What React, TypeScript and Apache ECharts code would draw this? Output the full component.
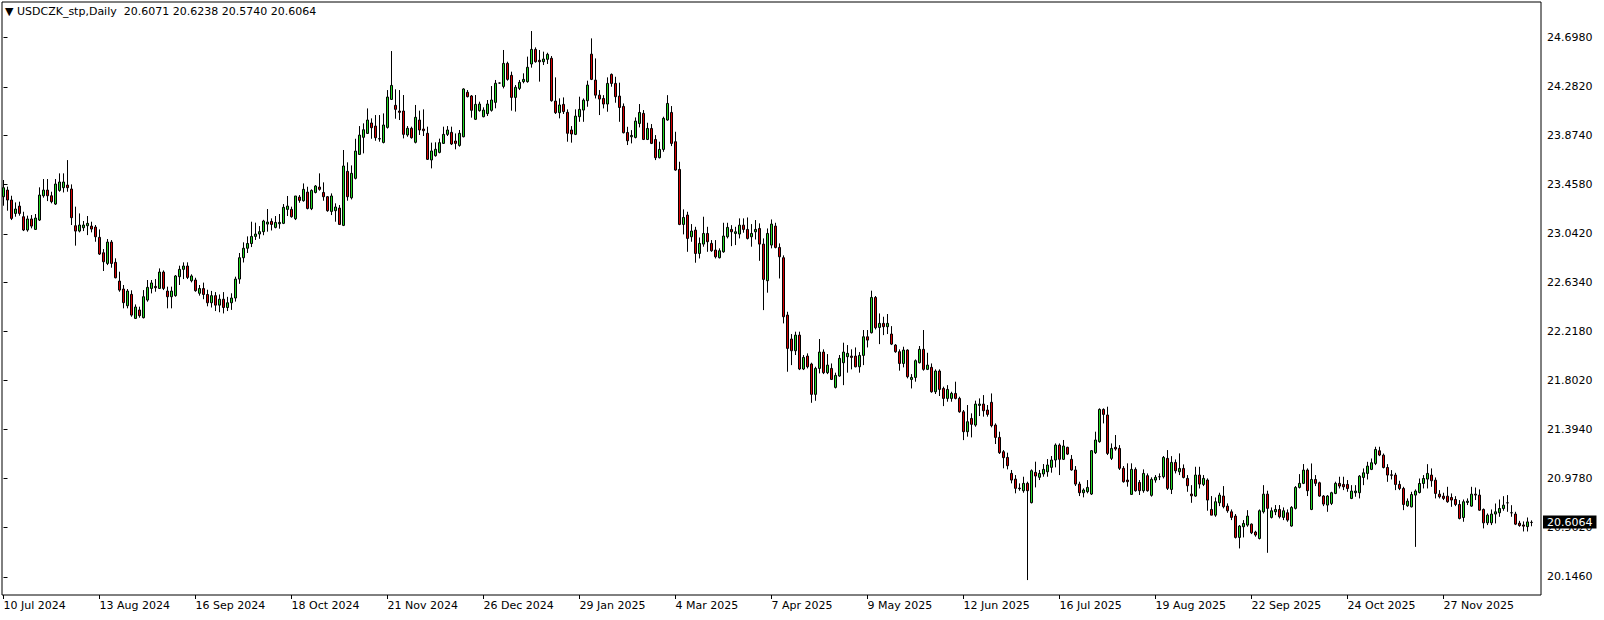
import React, { useEffect, useRef } from "react";
import * as echarts from "echarts";

const symbolTitle = "USDCZK_stp,Daily";

const tickIndex = [0, 24, 48, 72, 96, 120, 144, 168, 192, 216, 240, 264, 288, 312, 336, 360];
const tickLabels = [
  "10 Jul 2024", "13 Aug 2024", "16 Sep 2024", "18 Oct 2024", "21 Nov 2024", "26 Dec 2024",
  "29 Jan 2025", "4 Mar 2025", "7 Apr 2025", "9 May 2025", "12 Jun 2025", "16 Jul 2025",
  "19 Aug 2025", "22 Sep 2025", "24 Oct 2025", "27 Nov 2025",
];
const priceTicks = [24.698, 24.282, 23.874, 23.458, 23.042, 22.634, 22.218, 21.802, 21.394, 20.978, 20.562, 20.146];

const opens = [
  23.355, 23.411, 23.327, 23.214, 23.276, 23.186, 23.074, 23.167, 23.079, 23.158,
  23.363, 23.411, 23.363, 23.293, 23.408, 23.431, 23.453, 23.420, 23.110, 23.065,
  23.093, 23.110, 23.107, 23.099, 23.012, 22.882, 22.792, 22.972, 22.801, 22.643,
  22.576, 22.435, 22.531, 22.328, 22.399, 22.334, 22.483, 22.581, 22.598, 22.581,
  22.719, 22.559, 22.511, 22.520, 22.680, 22.742, 22.770, 22.646, 22.652, 22.540,
  22.580, 22.530, 22.460, 22.520, 22.440, 22.490, 22.420, 22.460, 22.500, 22.660,
  22.840, 22.920, 22.960, 23.020, 23.040, 23.060, 23.124, 23.147, 23.096, 23.127,
  23.130, 23.248, 23.248, 23.169, 23.352, 23.321, 23.394, 23.254, 23.391, 23.436,
  23.391, 23.355, 23.231, 23.237, 23.259, 23.113, 23.569, 23.346, 23.510, 23.712,
  23.856, 23.889, 23.977, 23.951, 23.845, 23.813, 23.940, 24.176, 24.126, 24.078,
  24.078, 23.876, 23.932, 23.814, 24.002, 23.926, 23.890, 23.665, 23.701, 23.729,
  23.805, 23.881, 23.898, 23.825, 23.788, 23.861, 24.236, 24.205, 24.008, 24.081,
  24.030, 24.056, 24.084, 24.151, 24.314, 24.286, 24.480, 24.379, 24.193, 24.269,
  24.326, 24.326, 24.475, 24.598, 24.506, 24.494, 24.514, 24.523, 24.162, 24.064,
  24.134, 24.067, 23.918, 23.881, 24.030, 24.086, 24.165, 24.558, 24.339, 24.212,
  24.184, 24.137, 24.387, 24.311, 24.204, 24.117, 23.897, 23.861, 23.855, 23.973,
  24.058, 23.838, 23.931, 23.838, 23.684, 23.754, 24.002, 24.066, 23.819, 23.585,
  23.121, 23.200, 23.017, 23.073, 22.876, 22.955, 23.045, 22.961, 22.905, 22.840,
  22.890, 23.017, 23.079, 23.045, 23.040, 23.115, 23.079, 23.017, 23.059, 23.087,
  22.955, 22.646, 22.947, 23.107, 22.927, 22.840, 22.356, 22.154, 22.055, 22.187,
  21.901, 22.010, 21.943, 21.687, 21.906, 22.044, 21.870, 21.906, 21.746, 21.842,
  21.954, 22.005, 22.010, 22.010, 21.920, 22.016, 22.173, 22.207, 22.505, 22.252,
  22.286, 22.258, 22.196, 22.103, 22.047, 21.948, 22.061, 21.813, 21.830, 21.954,
  22.067, 21.898, 21.915, 21.709, 21.884, 21.737, 21.653, 21.653, 21.695, 21.653,
  21.540, 21.372, 21.484, 21.428, 21.594, 21.605, 21.555, 21.620, 21.428, 21.324,
  21.203, 21.155, 21.020, 20.972, 20.896, 20.874, 20.936, 20.773, 21.029, 20.987,
  21.015, 21.034, 21.071, 21.133, 21.259, 21.139, 21.240, 21.139, 21.049, 20.930,
  20.857, 20.866, 20.846, 21.195, 21.288, 21.560, 21.513, 21.147, 21.240, 21.231,
  21.063, 20.964, 20.843, 21.054, 20.944, 20.874, 21.001, 20.835, 20.964, 20.992,
  20.992, 21.147, 20.885, 21.113, 21.034, 21.062, 20.978, 20.846, 20.829, 21.006,
  20.927, 20.964, 20.716, 20.668, 20.772, 20.829, 20.744, 20.696, 20.660, 20.480,
  20.570, 20.584, 20.592, 20.525, 20.471, 20.696, 20.845, 20.649, 20.696, 20.716,
  20.649, 20.688, 20.576, 20.725, 20.902, 20.936, 21.048, 20.716, 20.969, 20.941,
  20.829, 20.753, 20.767, 20.851, 20.936, 20.927, 20.927, 20.809, 20.857, 20.857,
  20.986, 21.020, 21.054, 21.104, 21.211, 21.174, 21.070, 21.008, 21.006, 20.927,
  20.893, 20.747, 20.738, 20.837, 20.859, 20.935, 20.972, 21.006, 20.963, 20.845,
  20.828, 20.828, 20.817, 20.800, 20.758, 20.648, 20.775, 20.744, 20.845, 20.837,
  20.716, 20.603, 20.603, 20.677, 20.688, 20.724, 20.772, 20.688, 20.677, 20.600,
  20.585, 20.571, 20.6071,
];

const closes = [
  23.431, 23.327, 23.172, 23.251, 23.214, 23.074, 23.167, 23.107, 23.175, 23.369,
  23.411, 23.363, 23.313, 23.462, 23.479, 23.479, 23.431, 23.178, 23.065, 23.116,
  23.116, 23.130, 23.082, 23.017, 22.871, 22.806, 22.972, 22.792, 22.671, 22.567,
  22.461, 22.559, 22.356, 22.424, 22.351, 22.511, 22.590, 22.627, 22.587, 22.719,
  22.581, 22.511, 22.559, 22.686, 22.742, 22.770, 22.674, 22.686, 22.562, 22.580,
  22.530, 22.460, 22.520, 22.440, 22.490, 22.420, 22.460, 22.500, 22.660, 22.840,
  22.920, 22.960, 23.020, 23.040, 23.060, 23.150, 23.141, 23.121, 23.138, 23.138,
  23.265, 23.276, 23.186, 23.361, 23.324, 23.417, 23.256, 23.408, 23.445, 23.417,
  23.355, 23.237, 23.361, 23.268, 23.121, 23.614, 23.355, 23.552, 23.740, 23.875,
  23.920, 24.002, 23.937, 23.853, 23.842, 23.960, 24.196, 24.294, 24.092, 24.067,
  23.881, 23.932, 23.853, 24.025, 23.918, 23.912, 23.670, 23.741, 23.755, 23.811,
  23.881, 23.918, 23.800, 23.805, 23.890, 24.264, 24.199, 24.084, 24.134, 24.137,
  24.086, 24.137, 24.171, 24.312, 24.314, 24.480, 24.345, 24.193, 24.278, 24.320,
  24.345, 24.447, 24.598, 24.494, 24.494, 24.517, 24.556, 24.165, 24.064, 24.129,
  24.073, 23.890, 23.884, 24.035, 24.092, 24.170, 24.297, 24.345, 24.212, 24.179,
  24.137, 24.311, 24.311, 24.199, 24.108, 23.895, 23.827, 23.872, 23.993, 24.066,
  23.838, 23.931, 23.805, 23.684, 23.754, 24.016, 24.142, 23.805, 23.580, 23.121,
  23.180, 23.003, 23.065, 22.876, 22.961, 23.045, 22.975, 22.899, 22.848, 22.899,
  23.023, 23.096, 23.059, 23.059, 23.115, 23.079, 23.003, 23.045, 23.079, 22.955,
  22.657, 23.045, 23.124, 22.927, 22.848, 22.342, 22.075, 22.055, 22.187, 21.901,
  21.999, 21.920, 21.687, 21.906, 22.044, 21.870, 21.934, 21.813, 21.847, 21.991,
  22.044, 22.033, 21.999, 21.920, 22.016, 22.173, 22.145, 22.505, 22.249, 22.286,
  22.258, 22.286, 22.111, 22.047, 21.948, 22.061, 21.836, 21.830, 21.971, 22.067,
  21.898, 21.934, 21.709, 21.884, 21.729, 21.653, 21.729, 21.695, 21.653, 21.540,
  21.372, 21.456, 21.434, 21.605, 21.605, 21.549, 21.518, 21.423, 21.324, 21.195,
  21.153, 21.085, 20.964, 20.894, 20.891, 20.936, 20.874, 21.043, 20.998, 21.020,
  21.054, 21.091, 21.133, 21.259, 21.139, 21.251, 21.183, 21.049, 20.930, 20.857,
  20.880, 20.902, 21.212, 21.302, 21.560, 21.518, 21.189, 21.231, 21.226, 21.063,
  20.950, 20.950, 21.054, 20.874, 20.874, 21.020, 20.874, 20.970, 20.987, 20.992,
  21.155, 20.894, 21.113, 21.042, 21.062, 20.986, 20.916, 20.831, 21.006, 20.930,
  20.978, 20.795, 20.668, 20.781, 20.837, 20.739, 20.705, 20.649, 20.480, 20.576,
  20.598, 20.660, 20.519, 20.500, 20.705, 20.845, 20.725, 20.705, 20.716, 20.654,
  20.705, 20.626, 20.733, 20.902, 20.936, 21.048, 20.874, 20.969, 20.936, 20.829,
  20.761, 20.829, 20.857, 20.936, 20.913, 20.907, 20.893, 20.871, 20.871, 20.997,
  21.025, 21.082, 21.110, 21.222, 21.175, 21.070, 21.006, 21.004, 20.927, 20.893,
  20.758, 20.786, 20.842, 20.871, 20.935, 20.977, 21.020, 20.958, 20.851, 20.823,
  20.809, 20.781, 20.795, 20.758, 20.640, 20.781, 20.786, 20.845, 20.837, 20.710,
  20.603, 20.668, 20.677, 20.696, 20.724, 20.752, 20.772, 20.688, 20.592, 20.580,
  20.575, 20.611, 20.6064,
];

const lows = [
  23.279, 23.237, 23.158, 23.186, 23.195, 23.065, 23.060, 23.088, 23.074, 23.150,
  23.347, 23.318, 23.299, 23.285, 23.397, 23.391, 23.397, 23.116, 22.942, 23.054,
  23.065, 23.031, 23.054, 22.975, 22.863, 22.728, 22.778, 22.756, 22.666, 22.553,
  22.413, 22.413, 22.342, 22.323, 22.334, 22.328, 22.469, 22.539, 22.553, 22.576,
  22.567, 22.413, 22.413, 22.511, 22.610, 22.660, 22.660, 22.632, 22.553, 22.520,
  22.490, 22.430, 22.420, 22.390, 22.380, 22.370, 22.390, 22.400, 22.470, 22.620,
  22.800, 22.880, 22.930, 22.990, 23.000, 23.030, 23.060, 23.070, 23.088, 23.085,
  23.124, 23.192, 23.178, 23.158, 23.304, 23.313, 23.248, 23.242, 23.383, 23.406,
  23.321, 23.228, 23.200, 23.144, 23.116, 23.107, 23.321, 23.332, 23.501, 23.707,
  23.721, 23.884, 23.844, 23.827, 23.819, 23.805, 23.930, 24.171, 24.013, 24.002,
  23.847, 23.861, 23.845, 23.805, 23.876, 23.867, 23.665, 23.594, 23.693, 23.721,
  23.800, 23.867, 23.791, 23.755, 23.777, 23.856, 24.193, 24.022, 24.002, 24.073,
  24.025, 24.036, 24.073, 24.101, 24.310, 24.269, 24.334, 24.081, 24.073, 24.255,
  24.312, 24.317, 24.444, 24.486, 24.326, 24.466, 24.475, 24.157, 24.053, 24.016,
  24.053, 23.819, 23.811, 23.875, 23.987, 23.987, 24.114, 24.339, 24.184, 24.044,
  24.100, 24.072, 24.283, 24.148, 23.987, 23.889, 23.791, 23.805, 23.847, 23.940,
  23.833, 23.833, 23.799, 23.664, 23.678, 23.734, 23.996, 23.782, 23.574, 23.115,
  23.037, 22.890, 22.975, 22.798, 22.834, 22.933, 22.890, 22.890, 22.834, 22.834,
  22.882, 23.003, 22.938, 22.947, 23.003, 23.051, 22.994, 22.933, 22.994, 22.814,
  22.398, 22.545, 22.919, 22.919, 22.665, 22.286, 21.878, 21.934, 22.019, 21.892,
  21.892, 21.906, 21.616, 21.633, 21.864, 21.858, 21.858, 21.808, 21.737, 21.836,
  21.765, 21.870, 21.898, 21.915, 21.870, 21.934, 22.083, 22.201, 22.235, 22.111,
  22.187, 22.196, 22.103, 22.038, 21.887, 21.915, 21.822, 21.737, 21.794, 21.948,
  21.887, 21.892, 21.701, 21.690, 21.673, 21.588, 21.625, 21.625, 21.645, 21.532,
  21.301, 21.330, 21.324, 21.414, 21.504, 21.499, 21.499, 21.409, 21.268, 21.184,
  21.063, 21.054, 20.936, 20.852, 20.874, 20.857, 20.120, 20.767, 20.902, 20.964,
  20.992, 20.992, 21.026, 21.071, 21.006, 21.133, 21.175, 21.043, 20.914, 20.829,
  20.818, 20.852, 20.838, 21.184, 21.279, 21.442, 21.175, 21.133, 21.212, 21.049,
  20.942, 20.908, 20.838, 20.866, 20.838, 20.857, 20.866, 20.824, 20.942, 20.964,
  20.978, 20.880, 20.846, 21.020, 21.006, 20.978, 20.865, 20.772, 20.823, 20.893,
  20.913, 20.705, 20.668, 20.654, 20.744, 20.725, 20.688, 20.626, 20.471, 20.387,
  20.480, 20.570, 20.508, 20.486, 20.463, 20.682, 20.350, 20.640, 20.668, 20.640,
  20.626, 20.612, 20.570, 20.716, 20.893, 20.930, 20.829, 20.710, 20.913, 20.823,
  20.744, 20.696, 20.753, 20.845, 20.893, 20.879, 20.865, 20.803, 20.823, 20.809,
  20.921, 20.969, 21.048, 21.090, 21.166, 21.062, 20.949, 20.969, 20.879, 20.879,
  20.710, 20.738, 20.733, 20.400, 20.851, 20.893, 20.893, 20.907, 20.809, 20.809,
  20.795, 20.772, 20.738, 20.744, 20.632, 20.612, 20.753, 20.738, 20.795, 20.705,
  20.556, 20.584, 20.584, 20.598, 20.654, 20.705, 20.696, 20.654, 20.584, 20.570,
  20.530, 20.530, 20.5740,
];

const highs = [
  23.496, 23.440, 23.363, 23.307, 23.313, 23.228, 23.195, 23.200, 23.209, 23.434,
  23.504, 23.504, 23.397, 23.504, 23.552, 23.552, 23.664, 23.459, 23.271, 23.214,
  23.150, 23.192, 23.144, 23.116, 23.079, 22.913, 22.998, 22.989, 22.835, 22.722,
  22.610, 22.576, 22.565, 22.446, 22.427, 22.567, 22.652, 22.652, 22.660, 22.750,
  22.733, 22.596, 22.596, 22.694, 22.773, 22.801, 22.801, 22.700, 22.671, 22.610,
  22.630, 22.570, 22.560, 22.550, 22.530, 22.550, 22.510, 22.540, 22.680, 22.880,
  22.970, 23.020, 23.144, 23.136, 23.107, 23.160, 23.251, 23.172, 23.192, 23.209,
  23.293, 23.361, 23.271, 23.361, 23.369, 23.467, 23.439, 23.417, 23.453, 23.552,
  23.476, 23.361, 23.383, 23.299, 23.285, 23.749, 23.645, 23.619, 23.844, 23.951,
  23.974, 24.100, 24.016, 24.044, 24.044, 24.058, 24.255, 24.584, 24.261, 24.255,
  24.213, 23.951, 23.946, 24.129, 24.081, 24.092, 23.946, 23.811, 23.814, 23.845,
  23.946, 23.951, 23.946, 23.889, 23.918, 24.270, 24.255, 24.213, 24.213, 24.157,
  24.109, 24.171, 24.289, 24.340, 24.318, 24.593, 24.494, 24.410, 24.297, 24.340,
  24.396, 24.537, 24.753, 24.615, 24.593, 24.579, 24.570, 24.542, 24.362, 24.185,
  24.193, 24.092, 23.951, 24.092, 24.199, 24.184, 24.334, 24.691, 24.522, 24.255,
  24.212, 24.362, 24.395, 24.367, 24.317, 24.142, 23.945, 23.917, 24.024, 24.137,
  24.086, 23.979, 23.968, 23.875, 23.819, 24.030, 24.212, 24.120, 23.903, 23.650,
  23.248, 23.228, 23.124, 23.101, 23.011, 23.186, 23.101, 22.989, 22.989, 22.919,
  23.135, 23.135, 23.115, 23.101, 23.172, 23.172, 23.180, 23.124, 23.158, 23.130,
  23.003, 23.087, 23.163, 23.135, 22.961, 22.860, 22.384, 22.196, 22.216, 22.216,
  22.019, 22.033, 21.954, 21.920, 22.154, 22.067, 22.027, 21.948, 21.870, 22.019,
  22.123, 22.103, 22.067, 22.083, 22.044, 22.230, 22.230, 22.562, 22.517, 22.370,
  22.342, 22.365, 22.263, 22.111, 22.067, 22.089, 22.067, 21.858, 21.982, 22.095,
  22.230, 22.038, 21.948, 21.898, 21.898, 21.752, 21.765, 21.709, 21.794, 21.667,
  21.555, 21.597, 21.527, 21.634, 21.653, 21.681, 21.597, 21.695, 21.442, 21.372,
  21.217, 21.195, 21.049, 21.006, 20.936, 20.992, 20.950, 21.054, 21.119, 21.049,
  21.099, 21.141, 21.167, 21.273, 21.273, 21.302, 21.245, 21.175, 21.082, 20.950,
  20.894, 20.964, 21.217, 21.372, 21.569, 21.569, 21.583, 21.273, 21.344, 21.259,
  21.082, 21.105, 21.105, 21.071, 20.964, 21.054, 21.020, 20.987, 21.006, 21.020,
  21.167, 21.217, 21.166, 21.138, 21.189, 21.096, 21.006, 20.921, 21.076, 21.076,
  21.006, 20.978, 20.829, 20.817, 20.857, 20.913, 20.767, 20.716, 20.677, 20.584,
  20.626, 20.710, 20.598, 20.536, 20.716, 20.921, 20.874, 20.733, 20.753, 20.753,
  20.733, 20.716, 20.744, 20.913, 21.014, 21.099, 21.062, 21.104, 21.006, 20.950,
  20.837, 20.837, 20.865, 20.950, 20.992, 20.992, 20.964, 20.921, 20.921, 21.006,
  21.062, 21.118, 21.146, 21.245, 21.245, 21.188, 21.098, 21.048, 21.025, 20.958,
  20.907, 20.809, 20.865, 20.885, 20.977, 21.006, 21.098, 21.062, 20.986, 20.879,
  20.857, 20.907, 20.851, 20.828, 20.795, 20.800, 20.809, 20.907, 20.901, 20.885,
  20.724, 20.682, 20.716, 20.766, 20.800, 20.828, 20.837, 20.752, 20.696, 20.620,
  20.615, 20.648, 20.6238,
];

const FONT = "DejaVu Sans";

export default function App() {
  const ref = useRef<HTMLDivElement>(null);

  useEffect(() => {
    document.body.style.margin = "0";
    const chart = echarts.init(ref.current!, null, { renderer: "svg" });
    const data = opens.map((o, i) => [i, o, closes[i], lows[i], highs[i]]);
    const last = opens.length - 1;
    const f4 = (v: number) => v.toFixed(4);

    chart.setOption({
      animation: false,
      backgroundColor: "#ffffff",
      title: {
        text: `▼ ${symbolTitle}  ${f4(opens[last])} ${f4(highs[last])} ${f4(lows[last])} ${f4(closes[last])}`,
        left: 5,
        top: 6,
        padding: 0,
        textStyle: { fontFamily: FONT, fontSize: 11, fontWeight: "normal", color: "#000" },
      },
      grid: {
        left: 2,
        right: 63,
        top: 2,
        bottom: 25,
        show: true,
        borderColor: "#000",
        borderWidth: 1,
        backgroundColor: "transparent",
      },
      xAxis: {
        type: "value",
        min: -0.375,
        max: 384.375,
        axisLine: { show: false },
        splitLine: { show: false },
        axisTick: { show: true, customValues: tickIndex, length: 4, lineStyle: { color: "#000" } },
        axisLabel: {
          customValues: tickIndex,
          formatter: (v: number) => {
            const k = tickIndex.indexOf(Math.round(v));
            return k >= 0 ? tickLabels[k] : "";
          },
          align: "left",
          margin: 5,
          fontFamily: FONT,
          fontSize: 11,
          color: "#000",
          showMinLabel: true,
          showMaxLabel: true,
        },
      },
      yAxis: {
        type: "value",
        position: "right",
        min: 19.994,
        max: 24.998,
        axisLine: { show: false },
        splitLine: { show: false },
        axisTick: { show: true, customValues: priceTicks, length: 4, lineStyle: { color: "#000" } },
        axisLabel: {
          customValues: priceTicks,
          formatter: (v: number) => v.toFixed(4),
          margin: 6,
          fontFamily: FONT,
          fontSize: 11,
          color: "#000",
        },
      },
      series: [
        {
          type: "candlestick",
          data,
          encode: { x: 0, y: [1, 2, 3, 4] },
          barWidth: 2,
          itemStyle: {
            color: "#22d622",
            color0: "#d60000",
            borderColor: "#000",
            borderColor0: "#000",
            borderWidth: 1,
          },
          markLine: {
            silent: true,
            symbol: "none",
            animation: false,
            z: 10,
            lineStyle: { color: "rgba(0,0,0,0)", width: 0, type: "solid" },
            data: [{ yAxis: closes[last] }],
            label: {
              show: true,
              position: "end",
              distance: 2,
              formatter: () => f4(closes[last]),
              backgroundColor: "#000",
              color: "#fff",
              fontFamily: FONT,
              fontSize: 11,
              padding: [1, 4, 1, 4],
            },
          },
        },
      ],
    });

    return () => chart.dispose();
  }, []);

  return <div ref={ref} style={{ width: 1604, height: 620 }} />;
}
